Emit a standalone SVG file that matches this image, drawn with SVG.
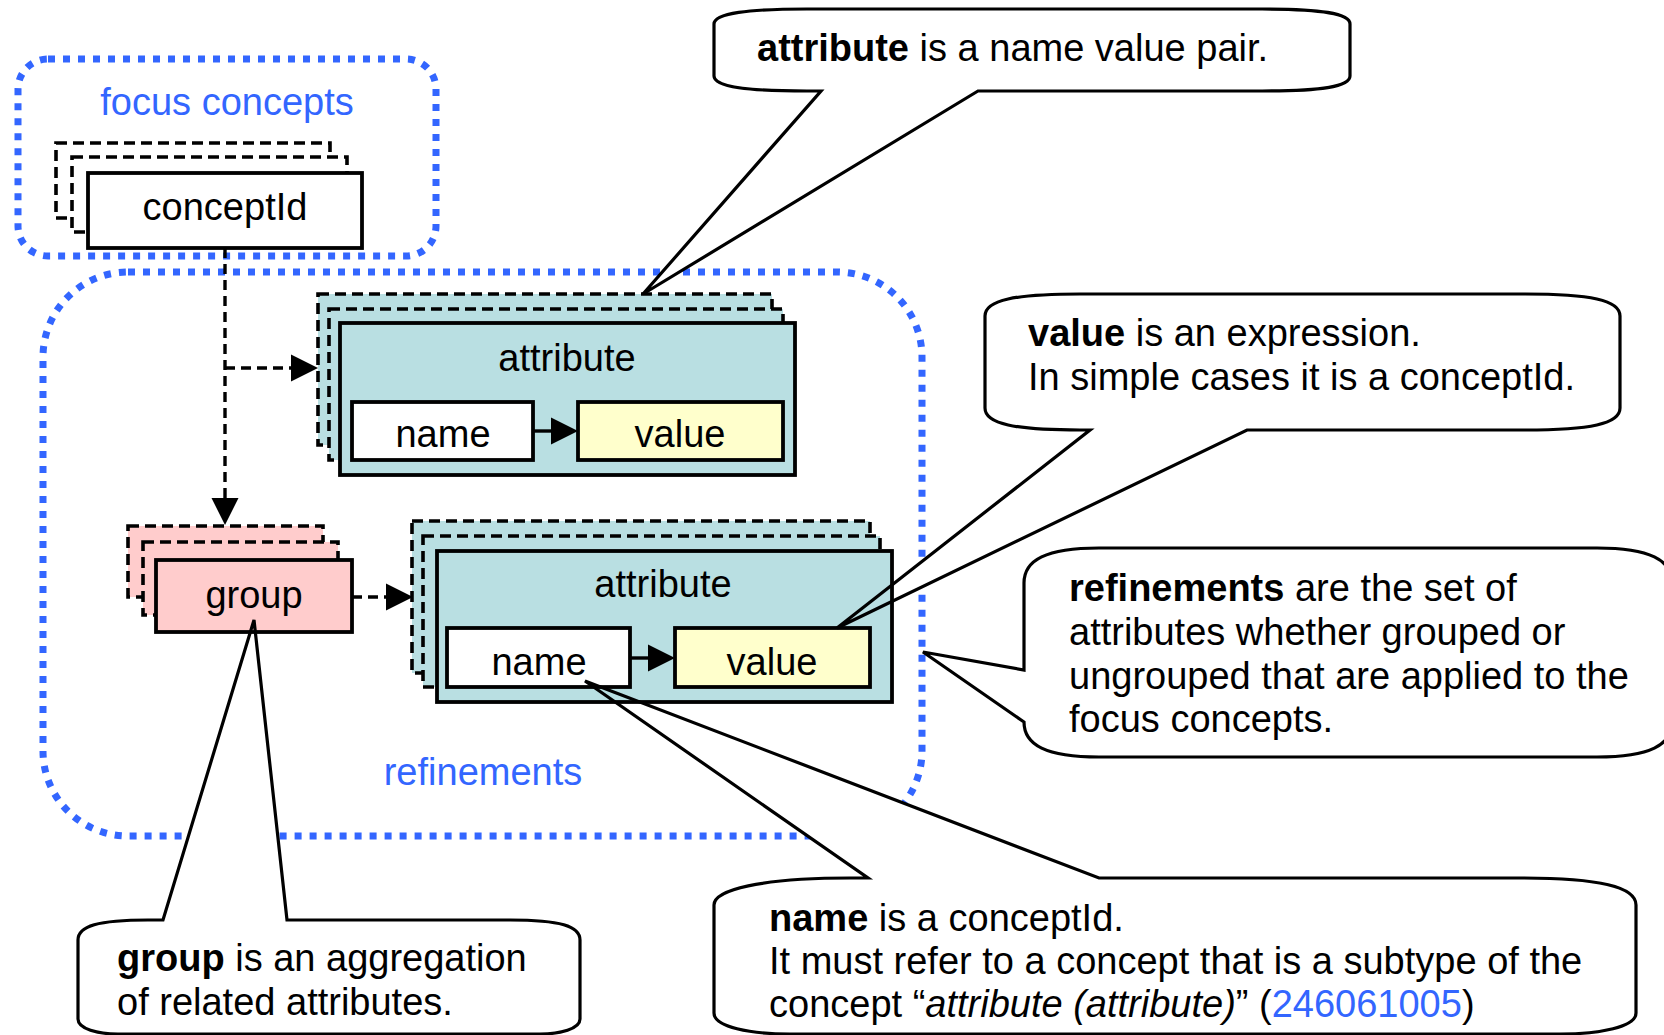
<svg xmlns="http://www.w3.org/2000/svg" xmlns:xlink="http://www.w3.org/1999/xlink" width="1664" height="1035" viewBox="0 0 1664 1035">
<style>
.t{font-family:"Liberation Sans",Arial,sans-serif;font-size:38px;fill:#000}
.c{text-anchor:middle}
.b{font-weight:bold}
.blue{fill:#3366FF}
.dotted{fill:none;stroke:#3366FF;stroke-width:7;stroke-dasharray:7 8}
.ghost{stroke:#000;stroke-width:3.6;stroke-dasharray:11 6}
.solid{stroke:#000;stroke-width:3.8}
.teal{fill:#B9DFE2}
.pink{fill:#FFCCCC}
.yellow{fill:#FFFFCC}
.white{fill:#FFFFFF}
.cfill{fill:#FFFFFF;stroke:none}
.cline{fill:none;stroke:#000;stroke-width:3.2;stroke-linejoin:miter}
.conn{fill:none;stroke:#000;stroke-width:3.4}
.dash{stroke-dasharray:10 6}
</style>
<defs>
<marker id="arrow" viewBox="0 0 10 10" refX="0" refY="5" markerUnits="userSpaceOnUse" markerWidth="27" markerHeight="28" orient="auto">
<path d="M0,0 L10,5 L0,10 Z" fill="#000"/>
</marker>
<path id="co-attr" d="M807,9 L1262,9 C1320,9 1350,13 1350,24 L1350,76 C1350,87 1320,91 1262,91 L978,91 L643,294 L821,91 L807,91 C749,91 714,87 714,76 L714,24 C714,13 749,9 807,9 Z"/>
<path id="co-value" d="M1080,294 L1525,294 C1590,294 1620,300 1620,316 L1620,408 C1620,424 1590,430 1525,430 L1247,430 L837,628 L1090,430 L1080,430 C1015,430 985,424 985,408 L985,316 C985,300 1015,294 1080,294 Z"/>
<path id="co-ref" d="M1099,548 L1597,548 C1650,548 1672,560 1672,583 L1672,722 C1672,745 1650,757 1597,757 L1099,757 C1046,757 1024,745 1024,722 L923,652 L1024,670 L1024,583 C1024,560 1046,548 1099,548 Z"/>
<path id="co-group" d="M148,920 L163,920 L254,620 L287,920 L510,920 C560,920 580,926 580,940 L580,1019 C580,1029 560,1034 540,1034 L118,1034 C98,1034 78,1029 78,1019 L78,940 C78,926 98,920 148,920 Z"/>
<path id="co-name" d="M850,878 L868,878 L585,681 L1099,878 L1521,878 C1600,878 1636,887 1636,905 L1636,1013 C1636,1027 1600,1034 1560,1034 L790,1034 C750,1034 714,1027 714,1013 L714,905 C714,890 760,878 850,878 Z"/>
</defs>
<rect width="1664" height="1035" fill="#FFFFFF"/>

<g id="focus-concepts">
<rect class="dotted" x="18" y="59" width="418" height="197" rx="30" ry="30"/>
<text class="t c blue" x="227" y="115">focus concepts</text>
</g>

<g id="refinements">
<rect class="dotted" x="43" y="272" width="879" height="564" rx="85" ry="85"/>
<text class="t c blue" x="483" y="785">refinements</text>
</g>

<g id="callout-fills">
<use xlink:href="#co-attr" href="#co-attr" class="cfill"/>
<use xlink:href="#co-value" href="#co-value" class="cfill"/>
<use xlink:href="#co-ref" href="#co-ref" class="cfill"/>
<use xlink:href="#co-group" href="#co-group" class="cfill"/>
<use xlink:href="#co-name" href="#co-name" class="cfill"/>
</g>

<g id="conceptId">
<rect class="white ghost" x="56" y="143" width="274" height="75"/>
<rect class="white ghost" x="72" y="157" width="275" height="75"/>
<rect class="white solid" x="88" y="173" width="274" height="75"/>
<text class="t c" x="225" y="220">conceptId</text>
</g>

<g id="attribute-1">
<rect class="teal ghost" x="318" y="294" width="454" height="151"/>
<rect class="teal ghost" x="329" y="309" width="454" height="151"/>
<rect class="teal solid" x="340" y="323" width="455" height="152"/>
<text class="t c" x="567" y="371">attribute</text>
<g id="name-1">
<rect class="white solid" x="352" y="402" width="181" height="58"/>
<text class="t c" x="443" y="447">name</text>
</g>
<g id="value-1">
<rect class="yellow solid" x="578" y="402" width="205" height="58"/>
<text class="t c" x="680" y="447">value</text>
</g>
</g>

<g id="group">
<rect class="pink ghost" x="128" y="526" width="195" height="71"/>
<rect class="pink ghost" x="143" y="542" width="195" height="73"/>
<rect class="pink solid" x="156" y="560" width="196" height="72"/>
<text class="t c" x="254" y="608">group</text>
</g>

<g id="attribute-2">
<rect class="teal ghost" x="412" y="521" width="458" height="152"/>
<rect class="teal ghost" x="423" y="536" width="457" height="151"/>
<rect class="teal solid" x="437" y="551" width="455" height="151"/>
<text class="t c" x="663" y="597">attribute</text>
<g id="name-2">
<rect class="white solid" x="447" y="628" width="183" height="59"/>
<text class="t c" x="539" y="675">name</text>
</g>
<g id="value-2">
<rect class="yellow solid" x="675" y="628" width="195" height="59"/>
<text class="t c" x="772" y="675">value</text>
</g>
</g>

<g id="connectors">
<path class="conn dash" d="M225,248 L225,498" marker-end="url(#arrow)"/>
<path class="conn dash" d="M225,368 L291,368" marker-end="url(#arrow)"/>
<path class="conn dash" d="M352,597 L386,597" marker-end="url(#arrow)"/>
<path class="conn" d="M533,431 L551,431" marker-end="url(#arrow)"/>
<path class="conn" d="M630,658 L648,658" marker-end="url(#arrow)"/>
</g>

<g id="callout-attribute">
<use xlink:href="#co-attr" href="#co-attr" class="cline"/>
<text class="t" x="757" y="61"><tspan class="b">attribute</tspan> is a name value pair.</text>
</g>

<g id="callout-value">
<use xlink:href="#co-value" href="#co-value" class="cline"/>
<text class="t" x="1028" y="346"><tspan class="b">value</tspan> is an expression.</text>
<text class="t" x="1028" y="390">In simple cases it is a conceptId.</text>
</g>

<g id="callout-refinements">
<use xlink:href="#co-ref" href="#co-ref" class="cline"/>
<text class="t" x="1069" y="601"><tspan class="b">refinements</tspan> are the set of</text>
<text class="t" x="1069" y="645">attributes whether grouped or</text>
<text class="t" x="1069" y="689">ungrouped that are applied to the</text>
<text class="t" x="1069" y="732">focus concepts.</text>
</g>

<g id="callout-group">
<use xlink:href="#co-group" href="#co-group" class="cline"/>
<text class="t" x="117" y="971"><tspan class="b">group</tspan> is an aggregation</text>
<text class="t" x="117" y="1015">of related attributes.</text>
</g>

<g id="callout-name">
<use xlink:href="#co-name" href="#co-name" class="cline"/>
<text class="t" x="769" y="931"><tspan class="b">name</tspan> is a conceptId.</text>
<text class="t" x="769" y="974">It must refer to a concept that is a subtype of the</text>
<text class="t" x="769" y="1017">concept “<tspan font-style="italic">attribute (attribute)</tspan>” (<tspan class="blue">246061005</tspan>)</text>
</g>
</svg>
